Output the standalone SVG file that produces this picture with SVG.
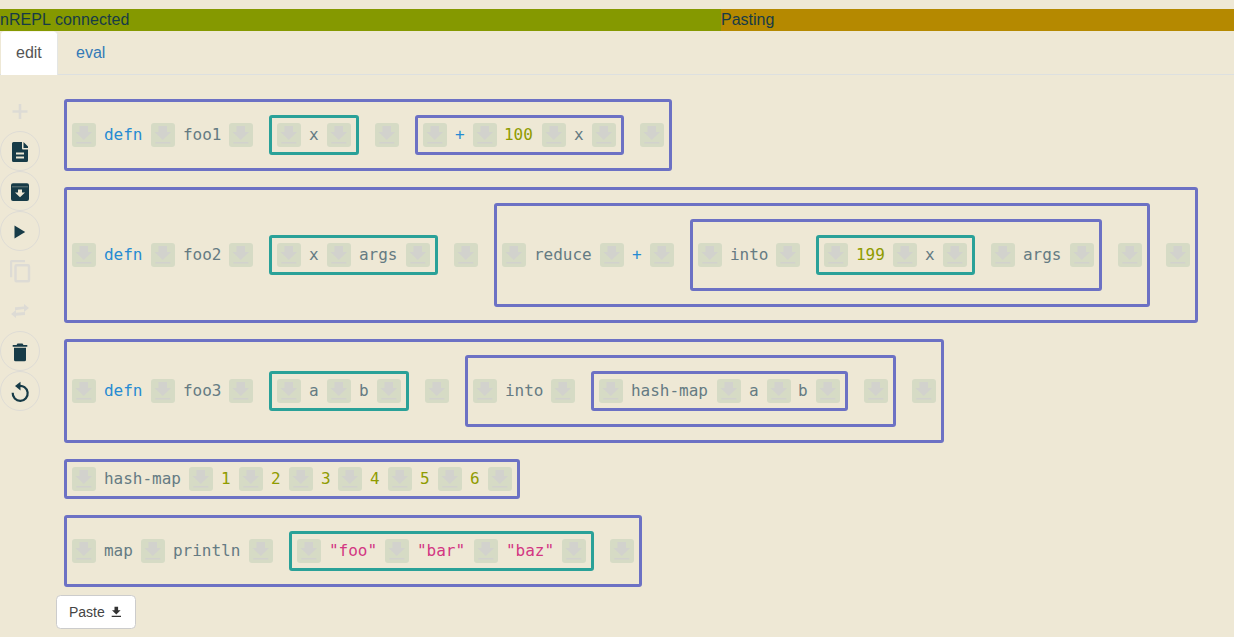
<svg xmlns="http://www.w3.org/2000/svg" width="1234" height="637" viewBox="0 0 1234 637">
<style>
text{font-family:"DejaVu Sans Mono",monospace;font-size:16px;transform:translateX(-.1px)}
text.ui{font-family:"Liberation Sans",Arial,sans-serif;transform:none}
.s{fill:#657b83}.k{fill:#268bd2}.n{fill:#8f9b00}.t{fill:#d33682}
.o{fill:none;stroke:#6c71c4;stroke-width:3;rx:1.500px}
.g{fill:none;stroke:#2aa198;stroke-width:3;rx:1.500px}
.c{fill:none;stroke:#dedcd5;stroke-width:1}
.d{fill:#173b47}
.f{fill:#dddbd5}
</style>
<defs>
<g id="b"><rect width="24" height="24" rx="3" fill="#d6dbc5"/><path d="M7.500 3h8.500v6h4l-8.200 8-8.200-8h3.900zM4.300 19h15v1.400h-15z" fill="#d2d2cd"/></g>
</defs>
<rect width="1234" height="637" fill="#eee8d5"/>
<g id="statusbar">
<rect y="9" width="721" height="22" fill="#859900"/>
<rect x="721" y="9" width="513" height="22" fill="#b58900"/>
<text class="ui" x="0" y="25" style="fill:#173b47;font-size:16px;letter-spacing:.07px">nREPL connected</text>
<text class="ui" x="721" y="25" style="fill:#173b47;font-size:16px">Pasting</text>
</g>
<g id="tabs">
<path d="M0 74.500H1234" stroke="#dde0e0" fill="none"/>
<path d="M1 75V34.500a3 3 0 0 1 3-3H54.500a3 3 0 0 1 3 3V75z" fill="#fff"/>
<path d="M57.500 75V34.500a3 3 0 0 0-3-3" fill="none" stroke="#e4e6e4"/>
<text class="ui" x="16" y="58" style="fill:#555;font-size:16px">edit</text>
<text class="ui" x="76" y="58" style="fill:#337ab7;font-size:16px">eval</text>
</g>
<g id="toolbar">
<path d="M18.700 104h2.600v6.200h6.200v2.600h-6.200v6.200h-2.600v-6.200h-6.200v-2.600h6.200z" class="f"/>
<g id="tool-file"><circle cx="20" cy="151" r="19.500" class="c"/><path d="M13.500 142h8.500v6.500a1 1 0 0 0 1 1h5v11a1.500 1.500 0 0 1-1.500 1.500h-13a1.500 1.500 0 0 1-1.500-1.500v-17a1.500 1.500 0 0 1 1.500-1.500zM16 152.500v2h8v-2zM16 156.500v2h8v-2zM23.500 142l4.500 4.500v1.500h-4.500z" class="d" fill-rule="evenodd"/></g>
<g id="tool-archive"><circle cx="20" cy="191" r="19.500" class="c"/><path d="M13 183.300h14a2 2 0 0 1 2 2V199a2 2 0 0 1-2 2H13a2 2 0 0 1-2-2V185.300a2 2 0 0 1 2-2zM18 189.500v3h-3l5 4.800 5-4.800h-3v-3z" class="d" fill-rule="evenodd"/><path d="M12 186.800h16" stroke="#eee8d5" stroke-opacity=".35" fill="none"/></g>
<g id="tool-play"><circle cx="20" cy="231" r="19.500" class="c"/><path d="M14.500 225.500v13l10.700-6.500z" class="d"/></g>
<g id="tool-copy"><path d="M11.500 260h13.500v2.200H12.200v15H10V261.500a1.500 1.500 0 0 1 1.500-1.500z" class="f"/><rect x="15.500" y="265.200" width="13.500" height="16" rx="1" fill="none" stroke="#dddbd5" stroke-width="2.400"/></g>
<g id="tool-swap"><path d="M24 304l5 4-5 4v-3l-9 1.200v-3l9-.7zM16 310v2.800l9-.8v3l-9 .7v2.300l-5-4z" class="f"/></g>
<g id="tool-trash"><circle cx="20" cy="351" r="19.500" class="c"/><path d="M17.500 343.500h5l1 1.500h3.800v1.800H12.700V345h3.800zM14 347.800h12v12a1.500 1.500 0 0 1-1.500 1.500h-9a1.500 1.500 0 0 1-1.500-1.500z" class="d"/></g>
<g id="tool-undo"><circle cx="20" cy="391" r="19.500" class="c"/><path d="M18.500 386a7.500 7.500 0 1 1-5.800 6.800" fill="none" stroke="#173b47" stroke-width="2.200"/><path d="M20.500 381.800v8.600l-5.500-4.300z" class="d"/></g>
</g>
<g id="connectors"/>
<g id="node-row1">
<rect class="o" x="65.500" y="100.500" width="605" height="69"/>
<rect class="g" x="270.500" y="116.500" width="87" height="37"/>
<rect class="o" x="416.500" y="116.500" width="206" height="37"/>
<use href="#b" x="72" y="123"/><use href="#b" x="151" y="123"/><use href="#b" x="229" y="123"/><use href="#b" x="277" y="123"/><use href="#b" x="327" y="123"/><use href="#b" x="375" y="123"/><use href="#b" x="423" y="123"/><use href="#b" x="473" y="123"/><use href="#b" x="542" y="123"/><use href="#b" x="592" y="123"/><use href="#b" x="640" y="123"/>
<text class="k" x="104" y="140">defn</text><text class="s" x="183" y="140">foo1</text><text class="s" x="309" y="140">x</text><text class="k" x="455" y="140">+</text><text class="n" x="504" y="140">100</text><text class="s" x="574" y="140">x</text>
</g>
<g id="node-row2">
<rect class="o" x="65.500" y="188.500" width="1131" height="133"/>
<rect class="g" x="270.500" y="236.500" width="166" height="37"/>
<rect class="o" x="495.500" y="204.500" width="653" height="101"/>
<rect class="o" x="691.500" y="220.500" width="409" height="69"/>
<rect class="g" x="817.500" y="236.500" width="156" height="37"/>
<use href="#b" x="72" y="243"/><use href="#b" x="151" y="243"/><use href="#b" x="229" y="243"/><use href="#b" x="277" y="243"/><use href="#b" x="327" y="243"/><use href="#b" x="406" y="243"/><use href="#b" x="454" y="243"/><use href="#b" x="502" y="243"/><use href="#b" x="600" y="243"/><use href="#b" x="650" y="243"/><use href="#b" x="698" y="243"/><use href="#b" x="776" y="243"/><use href="#b" x="824" y="243"/><use href="#b" x="893" y="243"/><use href="#b" x="943" y="243"/><use href="#b" x="991" y="243"/><use href="#b" x="1070" y="243"/><use href="#b" x="1118" y="243"/><use href="#b" x="1166" y="243"/>
<text class="k" x="104" y="260">defn</text><text class="s" x="183" y="260">foo2</text><text class="s" x="309" y="260">x</text><text class="s" x="359" y="260">args</text><text class="s" x="534" y="260">reduce</text><text class="k" x="632" y="260">+</text><text class="s" x="730" y="260">into</text><text class="n" x="856" y="260">199</text><text class="s" x="925" y="260">x</text><text class="s" x="1023" y="260">args</text>
</g>
<g id="node-row3">
<rect class="o" x="65.500" y="340.500" width="877" height="101"/>
<rect class="g" x="270.500" y="372.500" width="137" height="37"/>
<rect class="o" x="466.500" y="356.500" width="428" height="69"/>
<rect class="o" x="592.500" y="372.500" width="254" height="37"/>
<use href="#b" x="72" y="379"/><use href="#b" x="151" y="379"/><use href="#b" x="229" y="379"/><use href="#b" x="277" y="379"/><use href="#b" x="327" y="379"/><use href="#b" x="377" y="379"/><use href="#b" x="425" y="379"/><use href="#b" x="473" y="379"/><use href="#b" x="551" y="379"/><use href="#b" x="599" y="379"/><use href="#b" x="717" y="379"/><use href="#b" x="767" y="379"/><use href="#b" x="816" y="379"/><use href="#b" x="864" y="379"/><use href="#b" x="912" y="379"/>
<text class="k" x="104" y="396">defn</text><text class="s" x="183" y="396">foo3</text><text class="s" x="309" y="396">a</text><text class="s" x="359" y="396">b</text><text class="s" x="505" y="396">into</text><text class="s" x="631" y="396">hash-map</text><text class="s" x="749" y="396">a</text><text class="s" x="798" y="396">b</text>
</g>
<g id="node-row4">
<rect class="o" x="65.500" y="460.500" width="453" height="37"/>
<use href="#b" x="72" y="467"/><use href="#b" x="189" y="467"/><use href="#b" x="239" y="467"/><use href="#b" x="289" y="467"/><use href="#b" x="338" y="467"/><use href="#b" x="388" y="467"/><use href="#b" x="438" y="467"/><use href="#b" x="488" y="467"/>
<text class="s" x="104" y="484">hash-map</text><text class="n" x="221" y="484">1</text><text class="n" x="271" y="484">2</text><text class="n" x="321" y="484">3</text><text class="n" x="370" y="484">4</text><text class="n" x="420" y="484">5</text><text class="n" x="470" y="484">6</text>
</g>
<g id="node-row5">
<rect class="o" x="65.500" y="516.500" width="575" height="69"/>
<rect class="g" x="290.500" y="532.500" width="302" height="37"/>
<use href="#b" x="72" y="539"/><use href="#b" x="141" y="539"/><use href="#b" x="249" y="539"/><use href="#b" x="297" y="539"/><use href="#b" x="385" y="539"/><use href="#b" x="474" y="539"/><use href="#b" x="562" y="539"/><use href="#b" x="610" y="539"/>
<text class="s" x="104" y="556">map</text><text class="s" x="173" y="556">println</text><text class="t" x="329" y="556">"foo"</text><text class="t" x="417" y="556">"bar"</text><text class="t" x="506" y="556">"baz"</text>
</g>
<g id="paste">
<rect x="56.500" y="595.500" width="79" height="33" rx="4" fill="#fff" stroke="#ccc"/>
<text class="ui" x="69" y="617" style="fill:#444;font-size:14px">Paste</text>
<path d="M114.500 606.700h3.600v3.600h2.500l-4.300 4.300-4.300-4.300h2.500zM111.700 615.700h9.300v1.200h-9.300z" fill="#333"/>
</g>
</svg>
